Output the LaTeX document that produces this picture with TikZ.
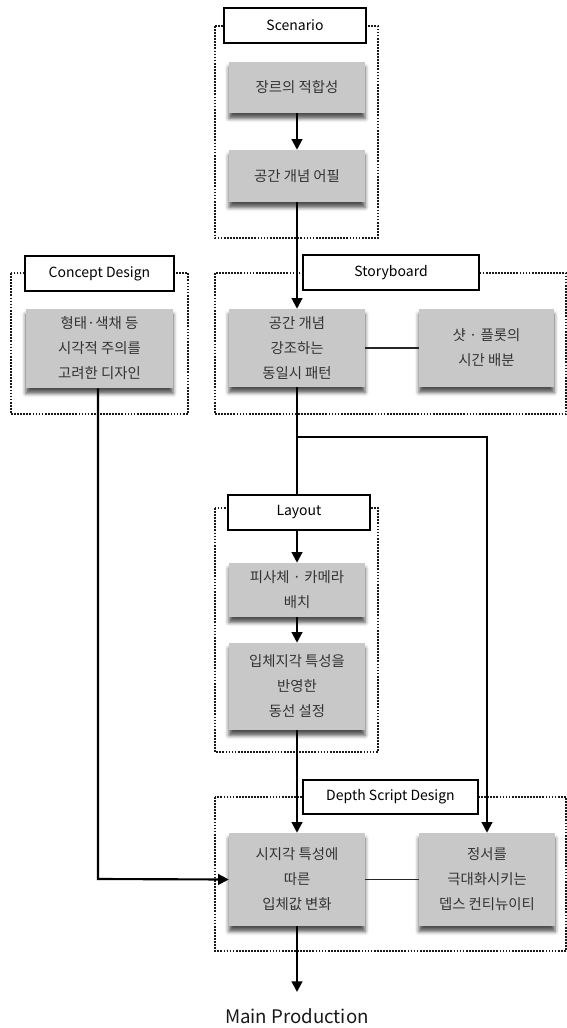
\documentclass[tikz,border=0pt]{standalone}
\usepackage{fontspec}
\setmainfont{Noto Sans CJK KR}
\usetikzlibrary{arrows.meta,shadows.blur}
\definecolor{boxgray}{HTML}{C8C8C8}
\definecolor{txtgray}{HTML}{333333}
\tikzset{
  grp/.style={draw=black!90, densely dotted, line width=1.3pt},
  ttl/.style={draw=black, fill=white, line width=1.2pt, inner sep=0pt,
    font=\fontsize{10.5}{12}\selectfont, text=black},
  gbox/.style={fill=boxgray, inner sep=0pt, align=center, text=txtgray,
    font=\fontsize{10.8}{18.75}\selectfont,
    blur shadow={shadow xshift=0pt, shadow yshift=-4pt, shadow blur radius=3pt, shadow opacity=70}},
  arr/.style={line width=1.6pt, -{Triangle[length=8pt,width=8pt]}},
  ln/.style={line width=1.6pt},
  thin/.style={line width=0.8pt, draw=black!85}
}
\begin{document}
\begin{tikzpicture}[x=0.75pt,y=-0.75pt]
\useasboundingbox (0,0) rectangle (567,1028);
% group frames
\draw[grp] (215,26) rectangle (378,238);
\draw[grp] (11,273) rectangle (188,414);
\draw[grp] (215,273) rectangle (566,414);
\draw[grp] (215,508) rectangle (378,752);
\draw[grp] (215,797) rectangle (566,951);
% titles
\node[ttl, minimum width={142*0.75pt}, minimum height={35*0.75pt}] (tS) at (295,25.5) {Scenario};
\node[ttl, minimum width={149*0.75pt}, minimum height={35*0.75pt}] (tC) at (99.5,273.5) {Concept Design};
\node[ttl, minimum width={176*0.75pt}, minimum height={35*0.75pt}] (tB) at (391,272.5) {Storyboard};
\node[ttl, minimum width={142*0.75pt}, minimum height={35*0.75pt}] (tL) at (299,512.5) {Layout};
\node[ttl, minimum width={175*0.75pt}, minimum height={34*0.75pt}] (tD) at (390.5,797) {Depth Script Design};
% gray boxes
\node[gbox, minimum width={136*0.75pt}, minimum height={51*0.75pt}] (s1) at (297,87.5) {장르의 적합성};
\node[gbox, minimum width={136*0.75pt}, minimum height={52*0.75pt}] (s2) at (297,176) {공간 개념 어필};
\node[gbox, minimum width={147*0.75pt}, minimum height={79*0.75pt}] (c1) at (99.5,348.5) {형태·색채 등\\시각적 주의를\\고려한 디자인};
\node[gbox, minimum width={136*0.75pt}, minimum height={78*0.75pt}] (b1) at (297,348) {공간 개념\\강조하는\\동일시 패턴};
\node[gbox, minimum width={135*0.75pt}, minimum height={78*0.75pt}] (b2) at (486.5,348) {샷 · 플롯의\\시간 배분};
\node[gbox, minimum width={136*0.75pt}, minimum height={54*0.75pt}] (l1) at (297,590) {피사체 · 카메라\\배치};
\node[gbox, minimum width={136*0.75pt}, minimum height={87*0.75pt}] (l2) at (297,686.5) {입체지각 특성을\\반영한\\동선 설정};
\node[gbox, minimum width={136*0.75pt}, minimum height={93*0.75pt}] (d1) at (297,879.5) {시지각 특성에\\따른\\입체값 변화};
\node[gbox, minimum width={136*0.75pt}, minimum height={93*0.75pt}] (d2) at (487,879.5) {정서를\\극대화시키는\\뎁스 컨티뉴이티};
% coordinates
\coordinate (br) at (297,437);
\coordinate (brR) at (487,437);
\coordinate (cc) at (98,879);
\coordinate (mpA) at (297,992);
\node[font=\fontsize{14}{16}\selectfont, text=black!90] (mp) at (297,1016) {Main Production};
% connectors
\draw[arr] (s1) -- (s2);
\draw[arr] (s2) -- (b1);
\draw[thin] (b1) -- (b2);
\draw[ln] (b1.south) -- (br) -- (tL.north -| br);
\draw[arr] (br) -- (brR) -- (d2.north);
\draw[arr] (tL.south -| l1) -- (l1);
\draw[arr] (l1) -- (l2);
\draw[arr] (l2) -- (d1);
\draw[thin] (d1) -- (d2);
\draw[arr] (c1.south -| cc) -- (cc) -- (d1.west);
\draw[arr] (d1.south) -- (mpA);
\end{tikzpicture}
\end{document}
